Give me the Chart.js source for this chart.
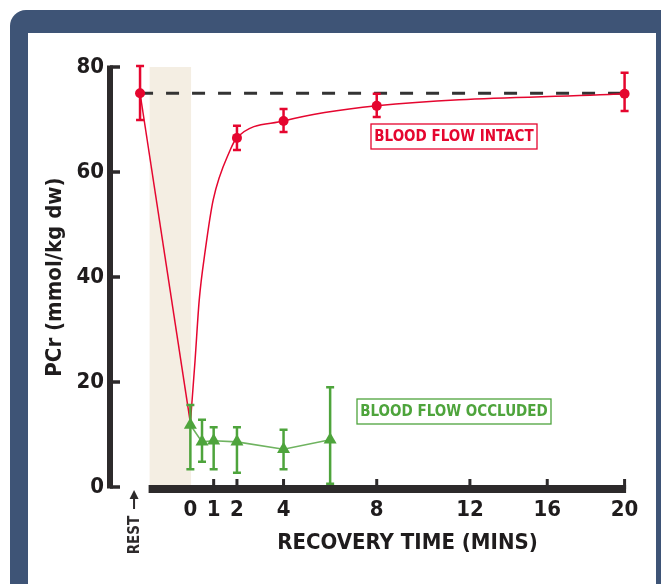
<!DOCTYPE html>
<html>
<head>
<meta charset="utf-8">
<script src="https://cdn.jsdelivr.net/npm/chart.js@4/dist/chart.umd.min.js"></script>
<style>
  html, body { margin: 0; padding: 0; background: #fff; overflow: hidden; }
  #frame { position: absolute; left: 10px; top: 10px; width: 700px; height: 640px; background: #3e5476; border-radius: 16px; }
  #panel { position: absolute; left: 28px; top: 33px; width: 628px; height: 600px; background: #fff; }
  #wrap { position: absolute; left: 0; top: 0; width: 661px; height: 584px; }
</style>
</head>
<body>
<div id="frame"></div>
<div id="panel"></div>
<div id="wrap"><canvas id="chart" width="661" height="584"></canvas></div>
<script>
const RED = "#e5062f";
const GREEN = "#4ea43c";
const INK = "#2d2a2b";
const FONT = '"DejaVu Sans Condensed", "DejaVu Sans", sans-serif';

// x value used for the resting measurement (drawn left of time 0)
const restX = -2.16;
const restLevel = 75;
const shadeFrom = -1.75;
const shadeTo = 0.03;

const xTicks = [0, 1, 2, 4, 8, 12, 16, 20];
const yTicks = [0, 20, 40, 60, 80];

// blood flow intact: measured points with error bars
const intactX = [restX, 2, 4, 8, 20];
const intactY = [75, 66.5, 69.7, 72.6, 74.9];
const intactLow = [69.9, 64.2, 67.6, 70.5, 71.6];
const intactHigh = [80.2, 68.8, 72.0, 74.9, 78.9];

// fitted recovery curve
const curveX = [0, 0.2, 0.38, 0.64, 0.98, 1.71, 2, 4, 8, 20];
const curveY = [12.2, 24, 35.6, 45.1, 54.7, 64.2, 66.5, 69.7, 72.6, 74.9];

// blood flow occluded
const occX = [0, 0.5, 1, 2, 4, 6];
const occY = [11.8, 8.6, 8.8, 8.6, 7.2, 9.0];
const occLow = [3.4, 4.8, 3.4, 2.7, 3.4, 0.6];
const occHigh = [15.6, 12.8, 11.4, 11.4, 10.9, 19.0];

const toPoints = (xs, ys) => xs.map((x, i) => ({ x, y: ys[i] }));

// the time axis is squeezed after 12 minutes
const warp = v => v <= 12 ? v : 12 + (v - 12) * 0.83;
const unwarp = w => w <= 12 ? w : 12 + (w - 12) / 0.83;

class WarpScale extends Chart.LinearScale {
  getPixelForValue(value) {
    const a = warp(this.min), b = warp(this.max);
    return this.getPixelForDecimal((warp(value) - a) / (b - a));
  }
  getValueForPixel(pixel) {
    const a = warp(this.min), b = warp(this.max);
    return unwarp(a + this.getDecimalForPixel(pixel) * (b - a));
  }
}
WarpScale.id = "warp";
WarpScale.defaults = Chart.LinearScale.defaults;
Chart.register(WarpScale);

const decorPlugin = {
  id: "decor",
  beforeDatasetsDraw(chart) {
    const { ctx, scales: { x, y } } = chart;
    ctx.save();
    ctx.fillStyle = "#f4eee3";
    const sx = x.getPixelForValue(shadeFrom);
    ctx.fillRect(sx, y.getPixelForValue(80), x.getPixelForValue(shadeTo) - sx, y.getPixelForValue(0) - y.getPixelForValue(80));
    ctx.restore();
  },
  afterDatasetsDraw(chart) {
    const { ctx, scales: { x, y } } = chart;
    ctx.save();
    // error bars
    chart.data.datasets.forEach((ds, di) => {
      if (!ds.errors) return;
      const meta = chart.getDatasetMeta(di);
      ctx.strokeStyle = ds.errors.color;
      ctx.lineWidth = 2.5;
      meta.data.forEach((pt, i) => {
        const top = y.getPixelForValue(ds.errors.high[i]);
        const bot = y.getPixelForValue(ds.errors.low[i]);
        ctx.beginPath();
        ctx.moveTo(pt.x, top); ctx.lineTo(pt.x, bot);
        ctx.moveTo(pt.x - 4, top); ctx.lineTo(pt.x + 4, top);
        ctx.moveTo(pt.x - 4, bot); ctx.lineTo(pt.x + 4, bot);
        ctx.stroke();
      });
    });

    // y axis bracket
    const ax = 110;
    ctx.strokeStyle = INK;
    ctx.lineWidth = 6;
    ctx.beginPath();
    ctx.moveTo(ax, y.getPixelForValue(80) - 1.5);
    ctx.lineTo(ax, y.getPixelForValue(0) + 1.5);
    ctx.stroke();
    ctx.lineWidth = 3.5;
    yTicks.forEach(t => {
      const py = y.getPixelForValue(t);
      ctx.beginPath();
      ctx.moveTo(ax, py); ctx.lineTo(ax + 10, py);
      ctx.stroke();
    });

    // x axis bar
    const base = y.getPixelForValue(0) + 2;
    ctx.lineWidth = 8;
    ctx.beginPath();
    ctx.moveTo(x.getPixelForValue(shadeFrom) - 1, base);
    ctx.lineTo(x.getPixelForValue(20) + 1.5, base);
    ctx.stroke();
    ctx.lineWidth = 3;
    xTicks.filter(t => t > 0).forEach(t => {
      const px = x.getPixelForValue(t);
      ctx.beginPath();
      ctx.moveTo(px, base); ctx.lineTo(px, base - 10);
      ctx.stroke();
    });

    // axis title, centred under the 0-20 span
    ctx.fillStyle = "#1f1c1d";
    ctx.font = `bold 22px ${FONT}`;
    ctx.textAlign = "center";
    ctx.textBaseline = "middle";
    ctx.fillText("RECOVERY TIME (MINS)", (x.getPixelForValue(0) + x.getPixelForValue(20)) / 2, 543);

    // REST marker
    const rx = x.getPixelForValue(restX) - 6;
    ctx.strokeStyle = INK;
    ctx.lineWidth = 2;
    ctx.beginPath();
    ctx.moveTo(rx, 509); ctx.lineTo(rx, 497);
    ctx.stroke();
    ctx.fillStyle = INK;
    ctx.beginPath();
    ctx.moveTo(rx, 490); ctx.lineTo(rx - 4.5, 499); ctx.lineTo(rx + 4.5, 499);
    ctx.closePath();
    ctx.fill();
    ctx.save();
    ctx.translate(rx + 1, 535);
    ctx.rotate(-Math.PI / 2);
    ctx.font = `bold 15px ${FONT}`;
    ctx.textAlign = "center";
    ctx.textBaseline = "middle";
    ctx.fillText("REST", 0, 0);
    ctx.restore();

    // series labels
    const label = (text, color, cx, cy, w) => {
      ctx.strokeStyle = color;
      ctx.lineWidth = 1.3;
      ctx.strokeRect(cx - w / 2, cy - 12.5, w, 25);
      ctx.fillStyle = color;
      ctx.font = `bold 15px ${FONT}`;
      ctx.textAlign = "center";
      ctx.textBaseline = "middle";
      ctx.fillText(text, cx, cy + 0.5);
    };
    label("BLOOD FLOW INTACT", RED, 454, 136.5, 166);
    label("BLOOD FLOW OCCLUDED", GREEN, 454, 411.5, 194);
    ctx.restore();
  }
};

new Chart(document.getElementById("chart"), {
  type: "line",
  data: {
    datasets: [
      {
        label: "Intact points",
        data: toPoints(intactX, intactY),
        showLine: false,
        pointRadius: 5,
        pointBackgroundColor: RED,
        pointBorderColor: RED,
        pointBorderWidth: 0,
        errors: { low: intactLow, high: intactHigh, color: RED },
        order: 1
      },
      {
        label: "Occluded",
        data: toPoints(occX, occY),
        borderColor: "#6fb360",
        borderWidth: 1.6,
        pointStyle: "triangle",
        pointRadius: 7.5,
        pointBackgroundColor: GREEN,
        pointBorderColor: GREEN,
        pointBorderWidth: 0,
        tension: 0,
        errors: { low: occLow, high: occHigh, color: GREEN },
        order: 2
      },
      {
        label: "Intact recovery",
        data: toPoints(curveX, curveY),
        borderColor: RED,
        borderWidth: 1.5,
        pointRadius: 0,
        cubicInterpolationMode: "monotone",
        order: 3
      },
      {
        label: "Intact fall",
        data: toPoints([restX, 0], [restLevel, curveY[0]]),
        borderColor: RED,
        borderWidth: 1.5,
        pointRadius: 0,
        order: 4
      },
      {
        label: "Resting level",
        data: toPoints([restX, 20], [restLevel, restLevel]),
        borderColor: "#333",
        borderWidth: 3,
        borderDash: [13, 13],
        pointRadius: 0,
        order: 5
      }
    ]
  },
  options: {
    responsive: false,
    animation: false,
    clip: false,
    layout: { padding: { top: 67, right: 31, left: 0, bottom: 0 } },
    plugins: { legend: { display: false }, tooltip: { enabled: false } },
    scales: {
      x: {
        type: "warp",
        min: -3.45,
        max: 20.28,
        afterFit: s => { s.height = 97; },
        afterBuildTicks: s => { s.ticks = xTicks.map(value => ({ value })); },
        grid: { display: false, drawTicks: false },
        border: { display: false },
        ticks: {
          autoSkip: false,
          maxRotation: 0,
          padding: 10,
          color: "#1f1c1d",
          font: { family: FONT, size: 22, weight: "bold" }
        },
        title: { display: false }
      },
      y: {
        min: 0,
        max: 80,
        afterFit: s => { s.width = 110; },
        afterBuildTicks: s => { s.ticks = yTicks.map(value => ({ value })); },
        grid: { display: false, drawTicks: false },
        border: { display: false },
        ticks: {
          padding: 6,
          color: "#1f1c1d",
          font: { family: FONT, size: 22, weight: "bold" }
        },
        title: {
          display: true,
          text: "PCr (mmol/kg dw)",
          color: "#1f1c1d",
          padding: { top: 42, bottom: 0 },
          font: { family: FONT, size: 22, weight: "bold" }
        }
      }
    }
  },
  plugins: [decorPlugin]
});
</script>
</body>
</html>
